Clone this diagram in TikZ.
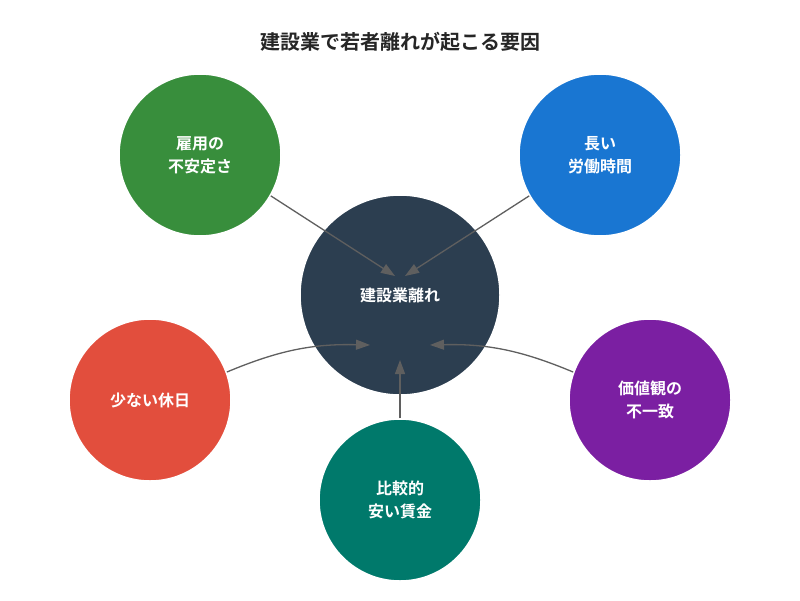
\documentclass[tikz,border=0pt]{standalone}
\usepackage{fontspec}
\setmainfont{Noto Sans CJK JP}[BoldFont={* Bold}]
\usetikzlibrary{arrows.meta}
\definecolor{cg}{HTML}{388E3C}
\definecolor{cb}{HTML}{1976D2}
\definecolor{cr}{HTML}{E24E3D}
\definecolor{cp}{HTML}{7B1FA2}
\definecolor{ct}{HTML}{00796B}
\definecolor{cc}{HTML}{2C3E50}
\definecolor{ar}{HTML}{5F5F5F}
\begin{document}
\begin{tikzpicture}[x=1pt,y=-1pt,
  circ/.style={circle,draw=white,line width=1.5pt,minimum size=#1,text=white,font=\bfseries\fontsize{16}{23}\selectfont,align=center,inner sep=0pt},
  con/.style={draw=ar,line width=1.3pt,-{Triangle[length=14pt,width=10pt]}}]
\fill[white] (0,0) rectangle (800,600);
\node[font=\bfseries\fontsize{20}{24}\selectfont,text=black!85] (t) at (400,42) {建設業で若者離れが起こる要因};
\node[circ=200pt,fill=cc] (c) at (400,295) {建設業離れ};
\node[circ=162pt,fill=cg] (g) at (200,155) {雇用の\\不安定さ};
\node[circ=162pt,fill=cb] (b) at (600,155) {長い\\労働時間};
\node[circ=162pt,fill=cr] (r) at (150,400) {少ない休日};
\node[circ=162pt,fill=cp] (p) at (650,400) {価値観の\\不一致};
\node[circ=162pt,fill=ct] (s) at (400,500) {比較的\\安い賃金};
\coordinate (eg) at (395,276);
\coordinate (eb) at (405,276);
\coordinate (er) at (370,345);
\coordinate (ep) at (430,345);
\coordinate (es) at (400,360);
\draw[con] (g.-30) -- (eg);
\draw[con] (b.-150) -- (eb);
\draw[con] (r.20) to[bend left=12] (er);
\draw[con] (p.160) to[bend right=12] (ep);
\draw[con] (s.north) -- (es);
\end{tikzpicture}
\end{document}
